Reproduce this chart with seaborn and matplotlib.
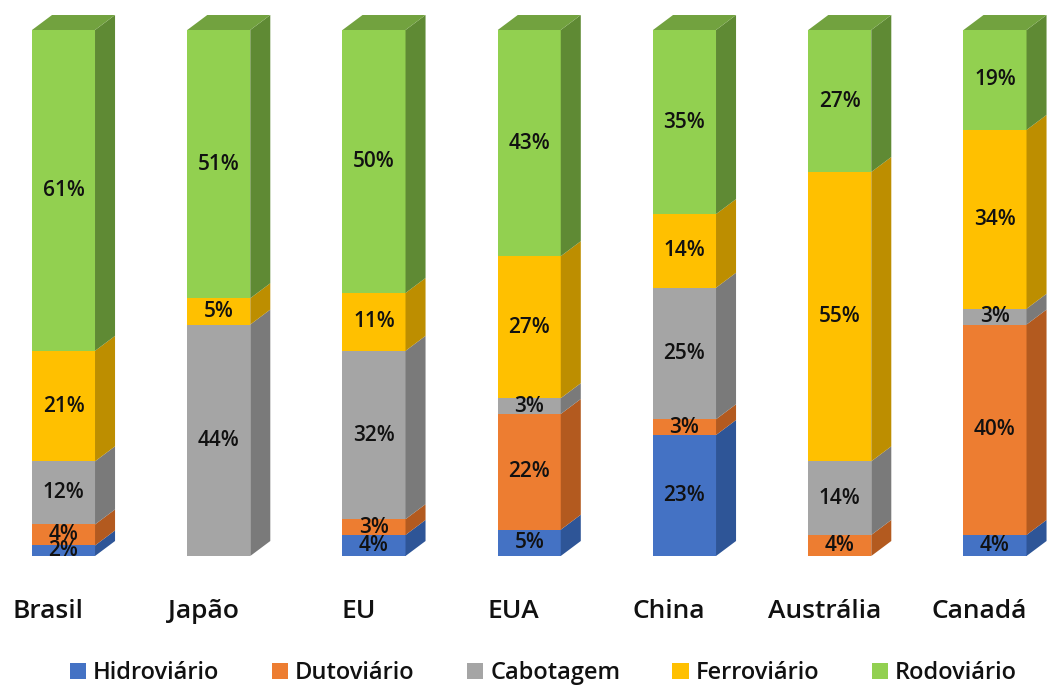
import numpy as np
import pandas as pd
import matplotlib
matplotlib.use("Agg")
import matplotlib.pyplot as plt
from matplotlib.patches import Patch
import seaborn as sns

# Modal share of freight transport (%)
countries = ["Brasil", "Japão", "EU", "EUA", "China", "Austrália", "Canadá"]
modes = ["Hidroviário", "Dutoviário", "Cabotagem", "Ferroviário", "Rodoviário"]
hidroviario = [2, 0, 4, 5, 23, 0, 4]
dutoviario = [4, 0, 3, 22, 3, 4, 40]
cabotagem = [12, 44, 32, 3, 25, 14, 3]
ferroviario = [21, 5, 11, 27, 14, 55, 34]
rodoviario = [61, 51, 50, 43, 35, 27, 19]

front_colors = ["#4472C4", "#ED7D31", "#A5A5A5", "#FFC000", "#92D050"]
side_colors = ["#2E5597", "#B35A1F", "#7A7A7A", "#BD8E00", "#5F8A34"]
top_colors = ["#3A64AE", "#D06A26", "#8E8E8E", "#DCA600", "#72A23F"]

sns.set_theme(style="white")
plt.rcParams["font.family"] = ["Open Sans", "DejaVu Sans"]

series = [hidroviario, dutoviario, cabotagem, ferroviario, rodoviario]
df = pd.DataFrame({m: v for m, v in zip(modes, series)}, index=countries)
cum = df.cumsum(axis=1)
base = cum - df

W, H = 1047, 690
fig = plt.figure(figsize=(W / 100, H / 100), dpi=100)
px_per_unit = 5.26
ax_bottom = 134
ax = fig.add_axes([0, ax_bottom / H, 1, (H - ax_bottom) / H])

bar_w = 0.406
dx = 0.129          # depth offset in category units
dy = 2.85           # depth offset in percentage units

# Front faces: cumulative totals drawn from the top series down
for i in range(len(modes) - 1, -1, -1):
    sns.barplot(x=countries, y=cum[modes[i]].values, color=front_colors[i],
                saturation=1, width=bar_w, linewidth=0, ax=ax)

# Side and top faces for the 3D look
for j, c in enumerate(countries):
    xr = j + bar_w / 2
    xl = j - bar_w / 2
    for i, m in enumerate(modes):
        b, t = base.loc[c, m], cum.loc[c, m]
        if t - b <= 0:
            continue
        ax.fill([xr, xr + dx, xr + dx, xr], [b, b + dy, t + dy, t],
                color=side_colors[i], linewidth=0, zorder=3)
    top = cum.loc[c].iloc[-1]
    top_i = max(i for i, m in enumerate(modes) if df.loc[c, m] > 0)
    ax.fill([xl, xr, xr + dx, xl + dx], [top, top, top + dy, top + dy],
            color=top_colors[top_i], linewidth=0, zorder=3)

# Value labels centred on each segment
for j, c in enumerate(countries):
    for i, m in enumerate(modes):
        v = df.loc[c, m]
        if v <= 0:
            continue
        ax.text(j, base.loc[c, m] + v / 2, f"{v}%", ha="center", va="center",
                fontsize=15, fontweight="semibold", color="#111111", zorder=5)

ax.set_xlim(-63.5 / 155.25, (W - 63.5) / 155.25)
ax.set_ylim(0, (H - ax_bottom) / px_per_unit)
ax.set_xticks([j - 0.1 for j in range(len(countries))])
ax.set_xticklabels(countries, fontsize=19, fontweight="semibold", color="#111111")
ax.tick_params(axis="x", length=0, pad=31)
ax.set_yticks([])
ax.set_xlabel("")
ax.set_ylabel("")
for s in ax.spines.values():
    s.set_visible(False)
ax.set_facecolor("none")

handles = [Patch(facecolor=col, edgecolor="none", label=m)
           for m, col in zip(modes, front_colors)]
leg = fig.legend(handles=handles, loc="lower center", ncol=5, frameon=False,
                 bbox_to_anchor=(0.519, -0.024), fontsize=17, handlelength=0.7,
                 handleheight=0.7, handletextpad=0.3, columnspacing=2.2,
                 labelcolor="#111111")
for t in leg.get_texts():
    t.set_fontweight("semibold")

fig.savefig("out.png", dpi=100, facecolor="white")
